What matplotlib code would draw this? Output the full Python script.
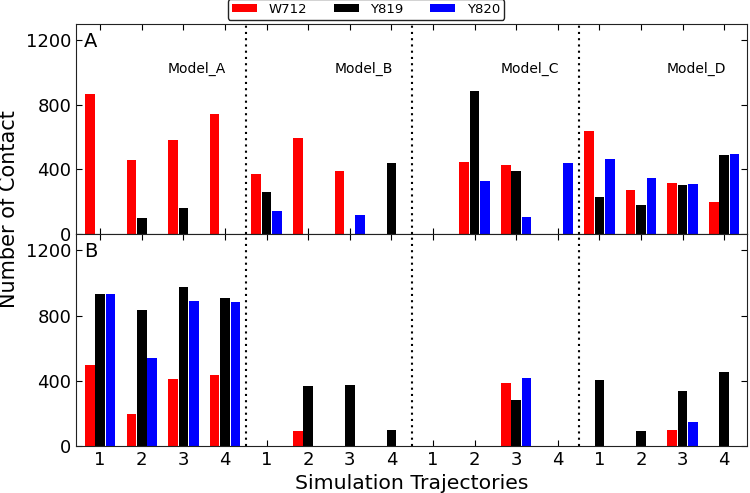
import matplotlib
matplotlib.use("Agg")
import matplotlib.pyplot as plt
import numpy as np

models = ["Model_A", "Model_B", "Model_C", "Model_D"]
traj_labels = ["1", "2", "3", "4"] * 4
series = ["W712", "Y819", "Y820"]
colors = ["#ff0000", "#000000", "#0000ff"]

# Panel A values (16 trajectories: Model_A 1-4, Model_B 1-4, Model_C 1-4, Model_D 1-4)
a_w712 = [868, 457, 580, 740, 371, 593, 391, 0, 0, 445, 428, 0, 640, 271, 316, 201]
a_y819 = [0, 100, 158, 0, 260, 0, 0, 439, 0, 886, 388, 0, 228, 180, 303, 486]
a_y820 = [0, 0, 0, 0, 143, 0, 115, 0, 0, 328, 108, 437, 463, 345, 308, 494]

# Panel B values
b_w712 = [496, 199, 408, 437, 0, 90, 0, 0, 0, 0, 388, 0, 0, 0, 96, 0]
b_y819 = [935, 833, 974, 905, 0, 369, 377, 96, 0, 0, 281, 0, 406, 92, 340, 451]
b_y820 = [935, 537, 892, 884, 0, 0, 0, 0, 0, 0, 414, 0, 0, 0, 148, 0]

panels = [("A", [a_w712, a_y819, a_y820]), ("B", [b_w712, b_y819, b_y820])]

fig = plt.figure(figsize=(7.5, 4.93), dpi=100)
left, right = 76 / 750, 747 / 750
ax_a = fig.add_axes([left, 1 - 234 / 493, right - left, 210 / 493])
ax_b = fig.add_axes([left, 1 - 446 / 493, right - left, 212 / 493])

x = np.arange(len(traj_labels))
w = 0.23
offs = [-0.25, 0.0, 0.25]

handles = []
for ax, (letter, vals) in zip([ax_a, ax_b], panels):
    for s, (v, c, off) in enumerate(zip(vals, colors, offs)):
        h = ax.bar(x + off, v, width=w, color=c, edgecolor="none", label=series[s])
        if ax is ax_a:
            handles.append(h)
    ax.set_xlim(-0.58, 15.55)
    ax.set_ylim(0, 1300)
    ax.set_yticks([0, 400, 800, 1200])
    ax.set_xticks(x)
    ax.tick_params(direction="in", top=True, right=True, length=4, labelsize=13, width=0.8)
    for b in [3.5, 7.5, 11.5]:
        ax.axvline(b, color="k", linestyle=(0, (1, 2)), lw=1.5)
    ax.text(0.012, 0.96, letter, transform=ax.transAxes, fontsize=14, va="top", ha="left")
    for sp in ax.spines.values():
        sp.set_color("#222222")

ax_a.set_xticklabels([])
ax_a.tick_params(axis="y", labelright=False)
ax_b.set_xticklabels(traj_labels)
ax_b.tick_params(axis="y", labelright=False)

for i, m in enumerate(models):
    ax_a.text(2.33 + 4 * i, 1020, m, fontsize=10, ha="center", va="center")

ax_b.set_xlabel("Simulation Trajectories", fontsize=14.7, labelpad=4)
fig.text(0.012, 1 - 209 / 493, "Number of Contact", rotation=90, fontsize=15,
         ha="center", va="center")

fig.legend(handles=handles, labels=series, loc="upper center", ncol=3,
           bbox_to_anchor=(0.488, 1.002), borderaxespad=0, fontsize=9.5,
           frameon=True, fancybox=True, edgecolor="#222222", handlelength=1.9,
           handleheight=0.55, handletextpad=0.9, columnspacing=2.0,
           borderpad=0.3, framealpha=1)

fig.savefig("out.png", dpi=100)
